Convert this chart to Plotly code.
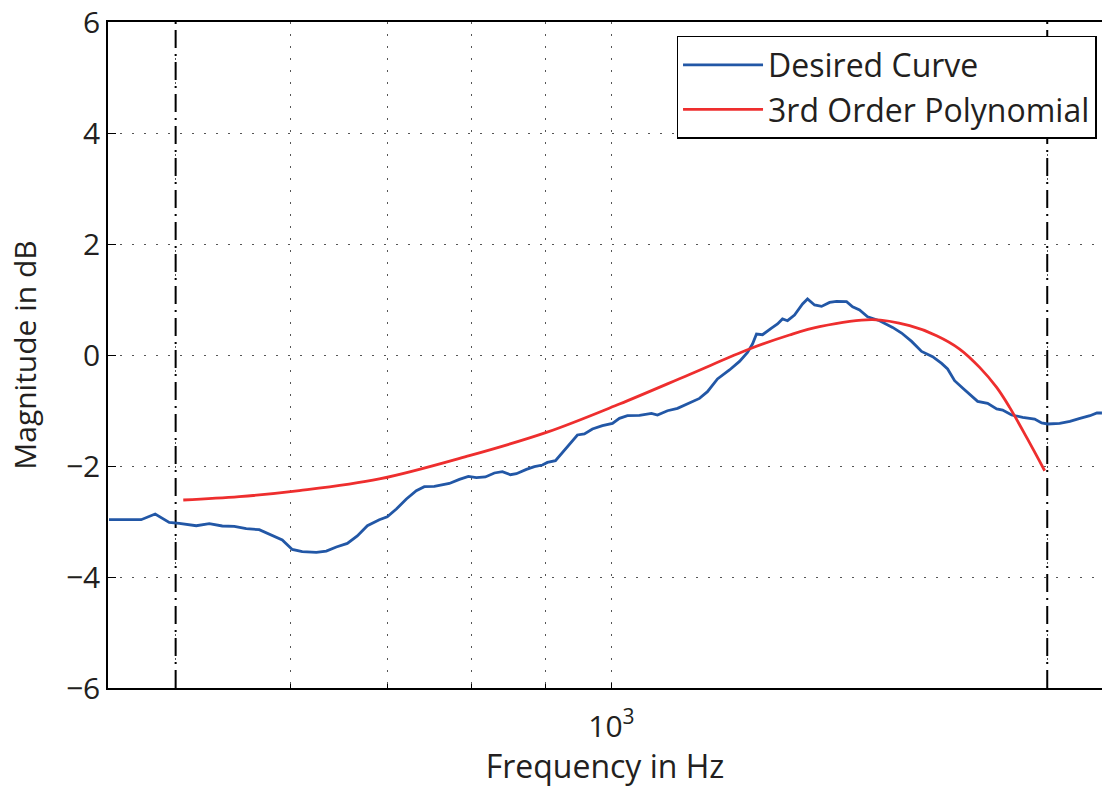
import math
import plotly.graph_objects as go

# Desired curve (frequency in Hz, magnitude in dB)
desired_freq = [449.7, 473.3, 484.0, 494.9, 502.9, 516.7, 527.5, 538.5, 548.9, 559.4,
                571.1, 580.3, 592.4, 601.9, 611.5, 625.4, 635.4, 645.6, 657.0, 667.5,
                678.3, 691.3, 700.1, 710.3, 721.7, 733.2, 742.6, 754.5, 772.7, 785.2,
                796.5, 806.7, 818.3, 830.1, 840.7, 851.5, 859.7, 873.5, 884.7, 896.0,
                903.2, 914.8, 930.9, 947.3, 957.9, 970.2, 985.8, 1001.6, 1012.8, 1025.8,
                1045.6, 1065.7, 1076.0, 1093.2, 1110.8, 1132.2, 1150.3, 1165.0, 1183.7, 1206.5,
                1225.9, 1241.6, 1251.5, 1259.5, 1271.6, 1289.9, 1302.3, 1312.7, 1323.2, 1338.0,
                1355.2, 1366.0, 1381.3, 1396.8, 1414.7, 1430.5, 1453.5, 1467.5, 1483.9, 1502.9,
                1531.8, 1563.9, 1586.4, 1611.9, 1637.7, 1666.7, 1690.7, 1706.9, 1726.0, 1748.1,
                1767.7, 1790.4, 1819.1, 1845.4, 1863.1, 1889.9, 1923.3, 1960.4, 1982.3, 2001.3,
                2039.9, 2073.4, 2106.7, 2140.5, 2164.5, 2181.8]
desired_db = [-2.968, -2.968, -2.865, -3.016, -3.034, -3.076, -3.040, -3.081, -3.088, -3.130,
              -3.148, -3.225, -3.333, -3.503, -3.544, -3.557, -3.532, -3.459, -3.395, -3.261,
              -3.076, -2.968, -2.914, -2.775, -2.595, -2.445, -2.373, -2.368, -2.314, -2.241,
              -2.187, -2.211, -2.198, -2.126, -2.103, -2.157, -2.139, -2.061, -2.013, -1.982,
              -1.935, -1.905, -1.676, -1.441, -1.423, -1.333, -1.274, -1.232, -1.142, -1.094,
              -1.088, -1.052, -1.081, -1.004, -0.962, -0.865, -0.782, -0.661, -0.432, -0.270,
              -0.115, 0.047, 0.198, 0.378, 0.366, 0.486, 0.559, 0.649, 0.618, 0.721,
              0.919, 1.009, 0.901, 0.876, 0.948, 0.966, 0.960, 0.870, 0.811, 0.690,
              0.618, 0.497, 0.396, 0.245, 0.065, -0.031, -0.151, -0.252, -0.463, -0.595,
              -0.715, -0.836, -0.872, -0.973, -0.991, -1.081, -1.124, -1.153, -1.225, -1.243,
              -1.232, -1.196, -1.142, -1.094, -1.045, -1.045]

# 3rd order polynomial fit
poly_freq = [506.1, 553.2, 608.7, 691.3, 797.7, 901.7, 1012.8, 1132.2, 1245.5, 1327.4,
             1392.4, 1514.8, 1606.8, 1677.3, 1739.8, 1796.1, 1845.4, 1883.9, 1935.5, 1991.9]
poly_db = [-2.613, -2.553, -2.445, -2.234, -1.814, -1.395, -0.883, -0.350, 0.108, 0.360,
           0.510, 0.636, 0.528, 0.348, 0.108, -0.223, -0.584, -0.944, -1.485, -2.085]

# Fit band limits (dash-dot markers)
band_limits = [500, 2000]

# Axis ticks
x_major_tickvals = [1000]
x_major_ticktext = ["10<sup>3</sup>"]
x_minor_tickvals = [500, 600, 700, 800, 900, 2000]
y_tickvals = [-6, -4, -2, 0, 2, 4, 6]
y_ticktext = ["\u22126", "\u22124", "\u22122", "0", "2", "4", "6"]
x_range_hz = [449.0, 2182.0]
y_range_db = [-6, 6]

FONT = "Open Sans"
TXT = "#231f20"
BLUE = "#2257a6"
RED = "#ee2e2e"
GRID = "#555555"
GRID_DASH = "2px,10px"

fig = go.Figure()

for f in band_limits:
    fig.add_trace(go.Scatter(
        x=[f, f], y=y_range_db, mode="lines", showlegend=False, hoverinfo="skip",
        line=dict(color="black", width=2, dash="18px,6px,2px,6px")))

fig.add_trace(go.Scatter(x=desired_freq, y=desired_db, mode="lines", name="Desired Curve",
                         line=dict(color=BLUE, width=2.8)))
fig.add_trace(go.Scatter(x=poly_freq, y=poly_db, mode="lines", name="3rd Order Polynomial",
                         line=dict(color=RED, width=2.8, shape="spline")))

fig.update_layout(
    width=1102, height=787,
    margin=dict(l=108, r=0, t=20, b=99),
    paper_bgcolor="white", plot_bgcolor="white",
    font=dict(family=FONT, size=30, color=TXT),
    showlegend=True,
    legend=dict(
        x=0.9945, y=0.979, xanchor="right", yanchor="top",
        bgcolor="white", bordercolor="black", borderwidth=1.5,
        font=dict(family=FONT, size=32, color=TXT),
        itemwidth=80, tracegroupgap=0,
    ),
    xaxis=dict(
        type="log",
        range=[math.log10(x_range_hz[0]), math.log10(x_range_hz[1])],
        tickmode="array", tickvals=x_major_tickvals, ticktext=x_major_ticktext,
        ticks="inside", ticklen=5, tickwidth=1, tickcolor="black",
        ticklabelstandoff=11, ticklabeloverflow="allow",
        minor=dict(tickmode="array", tickvals=x_minor_tickvals, ticks="inside", ticklen=4,
                   tickcolor="black", showgrid=True, gridcolor=GRID, gridwidth=1,
                   griddash=GRID_DASH),
        showline=True, linecolor="black", linewidth=1.5, mirror=True,
        showgrid=True, gridcolor=GRID, gridwidth=1, griddash=GRID_DASH,
        zeroline=False,
        title=dict(text="Frequency in Hz", standoff=6, font=dict(size=32)),
        tickfont=dict(size=30),
    ),
    yaxis=dict(
        range=y_range_db,
        tickmode="array", tickvals=y_tickvals, ticktext=y_ticktext,
        ticks="inside", ticklen=8, tickwidth=1, tickcolor="black",
        ticklabeloverflow="allow",
        showline=True, linecolor="black", linewidth=1.5, mirror=False,
        showgrid=True, gridcolor=GRID, gridwidth=1, griddash=GRID_DASH,
        zeroline=False,
        title=dict(text="Magnitude in dB", standoff=20, font=dict(size=30)),
        tickfont=dict(size=30),
    ),
)

fig.write_html("out.html")
